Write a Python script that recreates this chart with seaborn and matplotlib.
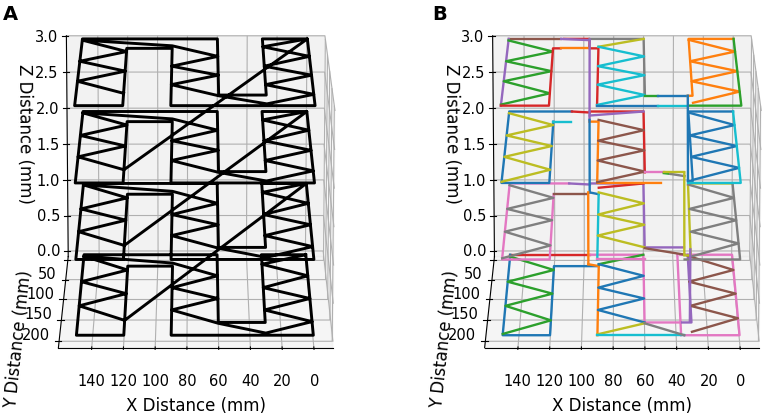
import matplotlib
matplotlib.use("Agg")
import matplotlib.pyplot as plt
import seaborn as sns
from mpl_toolkits.mplot3d import proj3d

# layer heights (mm)
layer_z = [0.0, 1.0, 2.0, 3.0]

# outer contour of one layer, traced from the corner x=0, y=0
perim_x = [0, 0, 90, 90, 120, 120, 150, 150, 60, 60, 30, 30, 0]
perim_y = [0, 200, 200, 30, 30, 200, 200, 0, 0, 170, 170, 0, 0]

# zigzag infill of panel A (right block -> bridge -> centre -> left block)
infill_x = [0, 30, 0, 30, 0, 30, 0, 30, 60, 90, 60, 90, 60, 90, 150, 120, 150, 120, 150, 120]
infill_y = [0, 25, 55, 85, 112, 140, 168, 195, 172, 140, 112, 85, 55, 22, 4, 40, 70, 100, 130, 165]

# zigzags of the three blocks used in panel B
zz_left_x = [150, 120, 150, 120, 150, 120, 150]
zz_left_y = [5, 40, 70, 100, 130, 165, 197]
zz_mid_x = [90, 60, 90, 60, 90, 60, 90]
zz_mid_y = [25, 55, 85, 112, 140, 170, 198]
zz_right_x = [30, 0, 30, 0, 30, 0, 30]
zz_right_y = [3, 40, 70, 100, 130, 160, 192]

# panel B: (colour index, x, y) pieces for each layer, bottom to top
b_layer0 = [
    (3, [150, 96], [0, 0]),
    (0, [150, 150, 120, 120, 90], [0, 200, 200, 30, 30]),
    (2, zz_left_x, zz_left_y),
    (1, [97, 90, 90], [25, 30, 200]),
    (6, [96, 60, 60, 37], [0, 0, 170, 170]),
    (2, [90, 60], [25, 0]),
    (0, zz_mid_x[:-1], zz_mid_y[:-1]),
    (6, [37, 37], [0, 200]),
    (6, [35, 0, 0, 35], [0, 0, 200, 200]),
    (8, [90, 60], [198, 172]),
    (9, [90, 35], [200, 200]),
    (7, [60, 35], [172, 200]),
    (4, [30, 30, 36], [0, 170, 170]),
    (5, zz_right_x, zz_right_y),
]
b_layer1 = [
    (6, [110, 150, 150, 120, 120], [0, 0, 200, 200, 30]),
    (7, zz_left_x, zz_left_y),
    (5, [120, 98], [30, 30]),
    (4, [110, 96], [0, 3]),
    (0, [96, 90], [25, 30]),
    (4, [96, 60, 60, 35], [0, 0, 170, 170]),
    (3, [90, 60], [12, 0]),
    (9, [90, 90], [30, 200]),
    (8, zz_mid_x[:-1], zz_mid_y[:-1]),
    (6, [90, 60], [200, 200]),
    (5, [60, 35], [172, 188]),
    (8, [35, 31, 30, 0], [190, 190, 0, 0]),
    (7, zz_right_x, zz_right_y),
    (7, [0, 0, 35], [0, 200, 200]),
]
b_layer2 = [
    (0, [108, 150, 150, 120, 120], [0, 0, 200, 200, 30]),
    (9, [120, 108], [30, 30]),
    (8, zz_left_x, zz_left_y),
    (3, [108, 96], [0, 3]),
    (3, [96, 60, 60], [0, 0, 172]),
    (4, [96, 60], [12, 0]),
    (1, [96, 90, 90, 50], [30, 30, 200, 200]),
    (5, zz_mid_x, zz_mid_y),
    (6, [60, 48], [172, 172]),
    (2, [48, 44], [174, 176]),
    (7, [44, 35], [176, 182]),
    (8, [48, 35], [172, 172]),
    (0, [33, 30, 30, 0], [195, 195, 0, 0]),
    (0, zz_right_x, zz_right_y),
    (9, [0, 0, 33], [0, 200, 200]),
]
b_layer3 = [
    (5, [150, 115], [0, 0]),
    (4, [150, 150], [200, 0]),
    (2, zz_left_x, zz_left_y),
    (3, [150, 120, 120, 115], [200, 200, 30, 30]),
    (3, [113, 96, 96, 90, 90], [0, 0, 30, 30, 200]),
    (4, [115, 96], [0, 4]),
    (1, [115, 96], [30, 30]),
    (7, [96, 60, 60], [0, 0, 172]),
    (8, [90, 60], [25, 0]),
    (9, zz_mid_x, zz_mid_y),
    (0, [90, 52], [200, 200]),
    (9, [52, 33], [200, 200]),
    (2, [60, 52], [172, 172]),
    (0, [52, 33], [172, 172]),
    (1, [33, 30, 30, 0], [172, 172, 0, 0]),
    (1, zz_right_x, zz_right_y),
    (2, [0, 0, 33], [0, 200, 200]),
]
b_layers = [b_layer0, b_layer1, b_layer2, b_layer3]

# panel B moves between layers: (colour, x, y_from, z_from, y_to, z_to)
b_moves = [
    (4, 96, 2, 3.0, 25, 2.0),
    (0, 96, 25, 2.0, 25, 1.0),
    (1, 97, 25, 1.0, 25, 0.0),
    (0, 33, 172, 3.0, 195, 2.0),
    (8, 35, 172, 2.0, 188, 1.0),
    (4, 31, 175, 1.0, 168, 0.0),
]

x_ticks = [0, 20, 40, 60, 80, 100, 120, 140]
y_ticks = [0, 50, 100, 150, 200]
y_tick_labels = ["", "50", "100", "150", "200"]
z_ticks = [0.0, 0.5, 1.0, 1.5, 2.0, 2.5, 3.0]

pal = sns.color_palette("tab10")

XLIM = (-12, 161)
YLIM = (-10, 215)
ZLIM = (-0.08, 3.0)


def setup_axes(ax):
    ax.view_init(elev=15, azim=90)
    ax.set_proj_type("persp", focal_length=2.0)
    ax.set_box_aspect((4.39, 5.3, 3.9), zoom=1.213)
    ax.set_xlim(*XLIM)
    ax.set_ylim(*YLIM)
    ax.set_zlim(*ZLIM)
    ax.set_xticks(x_ticks)
    ax.set_yticks(y_ticks)
    ax.set_zticks(z_ticks)
    ax.tick_params(labelsize=10.5)
    ax.tick_params(axis="y", labelcolor="none")
    # y tick labels sit just left of the y axis, a little above each tick
    proj = ax.get_proj()
    for yt, lab in zip(y_ticks, y_tick_labels):
        if not lab:
            continue
        px, py, _ = proj3d.proj_transform(XLIM[1] + 6, yt, ZLIM[0] + 0.07, proj)
        ax.text2D(px, py, lab, transform=ax.transData, fontsize=10.5,
                  ha="right", va="center")
    ax.set_xlabel("X Distance (mm)", fontsize=12)
    ax.set_ylabel("Y Distance (mm)", fontsize=12)
    ax.set_zlabel("Z Distance (mm)", fontsize=12)


fig = plt.figure(figsize=(7.68, 4.18), dpi=100)

# panel A: single continuous toolpath in black
ax_a = fig.add_axes([-0.002, 0.0, 0.5, 1.08], projection="3d")
path_x, path_y, path_z = [], [], []
for z in layer_z:
    path_x += perim_x + infill_x
    path_y += perim_y + infill_y
    path_z += [z] * (len(perim_x) + len(infill_x))
ax_a.plot(path_x, path_y, path_z, color="black", lw=2.1)
setup_axes(ax_a)

# panel B: reordered toolpath, coloured by segment
ax_b = fig.add_axes([0.553, 0.0, 0.5, 1.08], projection="3d")
for z, pieces in zip(layer_z, b_layers):
    for c, xs, ys in pieces:
        ax_b.plot(xs, ys, [z] * len(xs), color=pal[c], lw=1.7)
for c, x, y0, z0, y1, z1 in b_moves:
    ax_b.plot([x, x], [y0, y1], [z0, z1], color=pal[c], lw=1.7)
setup_axes(ax_b)

fig.text(0.004, 0.965, "A", fontsize=14, fontweight="bold", va="center")
fig.text(0.5625, 0.965, "B", fontsize=14, fontweight="bold", va="center")

fig.savefig("out.png", dpi=100)
